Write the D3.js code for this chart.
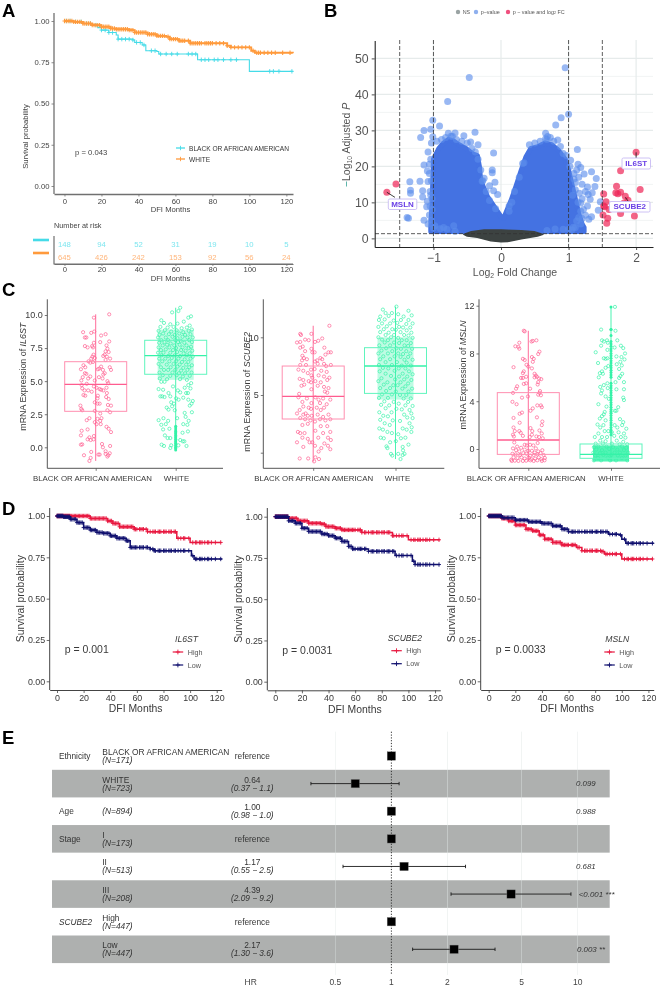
<!DOCTYPE html>
<html><head><meta charset="utf-8">
<style>html,body{margin:0;background:#fff}svg{display:block;font-family:"Liberation Sans",Arial,sans-serif;filter:blur(.35px)}</style>
<script src="https://cdnjs.cloudflare.com/ajax/libs/d3/7.8.5/d3.min.js"></script>
</head><body><script>
// ---------- Panel A / D survival steps [month, survival]
const aBlack=[[0,1],[5,.995],[10,.985],[15,.975],[18,.96],[20,.945],[24,.93],[28,.915],[29,.89],[37,.885],[38,.87],[42,.855],[44,.82],[50,.815],[51,.8],[72,.765],[100,.695],[123.5,.695]];
const aWhite=[[0,1],[5,.995],[10,.985],[15,.975],[20,.965],[25,.955],[28,.95],[35,.945],[38,.93],[45,.92],[50,.91],[55,.905],[57,.89],[62,.88],[68,.865],[87,.865],[88,.85],[90,.84],[99,.84],[101,.82],[103,.808],[123.5,.804]];
const aBlackCens=[1,3,6,9,12,14,17,20,22,24,26,29,31,33,35,37,39,41,43,47,49,52,55,58,61,67,69,71,74,76,78,81,83,86,90,93,111,113,116,123];
const aWhiteCens=[0,1,2,3,4,5,6,7,8,9,10,11,12,13,14,15,16,17,18,19,20,21,22,23,24,25,26,27,28,29,30,31,32,33,34,35,36,37,38,39,40,41,42,43,44,45,46,47,48,49,50,51,52,53,54,56,57,58,59,60,61,62,63,64,65,67,68,69,70,71,72,73,74,76,77,78,79,80,82,84,86,88,90,92,94,96,98,100,102,104,105,106,108,110,112,114,118,122];
const riskTimes=[0,20,40,60,80,100,120];
const riskBlack=[148,94,52,31,19,10,5];
const riskWhite=[645,426,242,153,92,56,24];
const d1High=[[0,1],[25,.985],[38,.97],[42,.955],[47,.935],[58,.92],[68,.905],[85,.905],[90,.865],[100,.84],[123.5,.84]];
const d1Low=[[0,1],[5,.995],[10,.98],[15,.96],[20,.93],[25,.915],[30,.9],[35,.895],[40,.88],[45,.865],[52,.85],[55,.81],[70,.8],[73,.79],[98,.79],[101,.76],[103,.74],[123.5,.735]];
const d2High=[[0,1],[10,.99],[17,.975],[25,.96],[35,.955],[38,.94],[45,.93],[50,.92],[65,.905],[87,.905],[88,.885],[100,.86],[123.5,.86]];
const d2Low=[[0,1],[10,.975],[15,.96],[20,.93],[25,.91],[35,.895],[40,.885],[45,.87],[50,.85],[55,.82],[58,.805],[70,.79],[90,.765],[100,.765],[103,.73],[105,.71],[123.5,.71]];
const d3High=[[0,1],[10,.985],[15,.97],[20,.945],[28,.92],[33,.91],[38,.885],[42,.86],[48,.84],[55,.825],[66,.81],[70,.79],[85,.785],[87,.77],[100,.74],[123.5,.74]];
const d3Low=[[0,1],[10,.99],[20,.975],[30,.965],[40,.955],[48,.94],[55,.92],[60,.905],[88,.905],[90,.89],[98,.885],[100,.86],[103,.835],[123.5,.83]];
const dCens=[0,.5,1,1.5,2,2.5,3,3.5,4,4.5,5,5.5,6,6.5,7,7.5,8,8.5,9,9.5,10,11,12,13,14,15,16,17,18,19,20,21,22,23,24,25,26,27,28,29,30,31,32,33,34,35,36,37,38,39,40,41,42,43,44,45,46,47,48,49,50,51,52,53,54,55,56,57,58,59,60,62,63,64,65,67,68,70,72,73,74,76,77,78,80,81,82,84,85,86,88,89,91,93,95,96,99,102,104,105,107,108,109,111,113,114,116,119,123];
// ---------- Panel B volcano
const blueTop=[[-1.04,3],[-1.02,10],[-1,22],[-.92,25],[-.85,26.5],[-.78,27.5],[-.7,27],[-.62,26],[-.52,25],[-.42,23.5],[-.35,23],[-.32,20],[-.3,16],[-.2,11.6],[-.1,8.8],[0,6],[.04,5.6],[.07,7],[.15,10.6],[.22,14.4],[.3,19],[.37,22.7],[.44,25],[.55,25.5],[.65,26.5],[.75,26],[.85,24.5],[.95,22],[1,19],[1.05,15],[1.1,11],[1.15,7],[1.2,4],[1.23,3]];
const blueBase=[1.9];
const blueDots=[[.95,47.4],[-.47,44.7],[-.79,38],[1,34.5],[.89,33.5],[-1.01,32.8],[.81,31.5],[-.91,31.2],[-1.14,30],[-1.04,30.3],[-1.19,28],[-1.01,28.2],[-.385,29.5],[-.55,28.5],[-.68,29.3],[-.78,29.2],[-.74,28.4],[.66,29.2],[.69,28.3],[.66,27.7],[.84,27.3],[.73,28],[1.13,24.7],[-.11,23.7],[-.34,26],[-.45,26.8],[-1.08,24],[-1.03,26.5],[-1.14,20.4],[-1.06,20.6],[-1.09,18.7],[1.14,20.6],[1.03,21.7],[.92,23.6],[1.18,19.7],[1.23,17.9],[1.34,18.5],[1.41,16.6],[1.39,14.4],[1.28,14.3],[1.35,12.7],[1.32,10.9],[-1.35,15.7],[-1.2,15.9],[-1.34,13.4],[-1.34,12.5],[-1.16,13.2],[-1.16,11.5],[-1.08,15.8],[-1.05,13],[-1.09,10.3],[-1.02,11],[-1.39,5.8],[-1.37,5.6],[-1.14,5],[-1.1,8.8],[-1.08,4],[-1.06,6.5],[-1.05,9],[-.13,19],[-.13,18.2],[-.25,16.7],[-.28,15.9],[-.09,15.6],[-.17,14.6],[-.11,13.2],[-.05,12.2],[.32,20.8],[.16,10],[.12,7.5],[1.08,16.5],[1.15,17],[1.2,15],[1.16,12.5],[1.25,13],[1.29,12.2],[1.18,9.8],[1.28,9],[1.22,8],[1.25,6.4],[1.34,6],[1.15,5.8],[1.3,5.3],[1.12,4.8],[1.07,3.1],[1.44,7.8],[1.47,10.2],[.92,2.5],[-.7,3.5],[-.68,2],[-.9,2.7],
[-.95,27],[-.88,27.5],[-.82,28],[-.72,28.4],[-.66,27.5],[-.58,27],[-.5,26.5],[-.43,25],[-.38,24],[-.34,22],[-.3,19],[-.27,16],[-.22,13],[-.17,10.5],[-.08,8.2],[-1.04,22],[-1.06,18],[-1.03,16],[-1.04,12],[-1.02,8],[-1.03,5],[-.98,3.5],[-1,2.8],[.42,26],[.5,26.5],[.58,27],[.68,27.5],[.78,27],[.88,25.5],[.97,23],[1.02,20],[1.08,18],[1.1,13.5],[1.14,10],[1.18,7.5],[1.2,5.5],[1.18,4],[1.1,3],[1,2.5],[.12,9],[.2,13],[.27,17],[.34,21],[-.85,3],[-.8,2.5],[.8,2.6],[1.05,2.4],[.68,2.2],[1.06,12],[1.1,15.5],[1.12,19],[1.2,11]];
const greyTop=[[-.55,1.1],[-.44,1.85],[-.25,2.3],[0,2.3],[.3,2.1],[.49,1.85],[.62,1.1]];
const greyLow=[[-.55,1.1],[-.5,.65],[-.35,.3],[-.15,-.65],[0,-.93],[.1,-.85],[.3,-.1],[.54,.65],[.62,1.1]];
const redDots=[[2,23.9],[1.77,18.8],[2.06,13.6],[1.71,14.5],[1.7,12.7],[1.77,12.8],[1.73,12.4],[1.84,11.7],[1.88,10.6],[1.52,12.3],[1.555,10.2],[1.52,9],[1.535,8.8],[1.6,8],[1.77,6.9],[1.51,6.5],[1.58,5.6],[1.565,4.2],[1.975,6.2],[1.82,9.8],[-1.555,15.1],[-1.69,12.8]];
const volTicksX=[-1,0,1,2];
const volTicksY=[0,10,20,30,40,50];
// ---------- Panel C boxes [q1, median, q3, whiskerLow, whiskerHigh]
const c1Box=[[2.72,4.76,6.47,-1.03,10.05],[5.52,6.93,8.09,-.2,10.55]];
const c2Box=[[2.92,4.88,7.51,-.78,11],[5.14,7.51,9.1,-.55,12.66]];
const c3Box=[[-.45,.75,4.72,-1.05,9.9],[-.78,-.45,.42,-1.05,11.9]];
const boxGroups=["BLACK OR AFRICAN AMERICAN","WHITE"];
// jitter, value pairs
const c1Black=[[.75,10.05],[-.1,9.8],[-.7,8.7],[-.25,8.65],[-.08,8.75],[.3,8.45],[.55,8.55],[-.6,8.3],[-.52,8.3],[.25,7.95],[.75,8],[-.1,7.9],[-.6,7.65],[-.45,7.55],[-.2,7.65],[-.15,7.55],[.6,7.7],[.65,7.45],[.55,7.25],[.72,7.2],[.5,7],[.62,6.85],[.42,6.9],[-.12,7],[-.18,6.85],[-.05,6.75],[-.25,6.7],[-.4,6.5],[-.3,6.4],[-.15,6.45],[.8,6.7],[.55,6.6],[-.68,6.2],[-.58,6.05],[-.82,5.9],[.3,6.1],[.2,5.95],[.12,5.9],[.4,5.85],[.78,6.05],[.85,5.85],[.5,5.6],[.42,5.5],[-.6,5.6],[-.52,5.55],[-.3,5.35],[-.72,5.3],[-.42,5.2],[-.8,5.05],[-.05,5.05],[.18,5.3],[.38,5.2],[.65,5],[.7,4.85],[-.78,4.7],[-.5,4.8],[-.75,4.45],[-.62,4.3],[-.42,4.3],[-.1,4.6],[.05,4.5],[.22,4.4],[.3,4.35],[.42,4.3],[.6,4.5],[.62,4.1],[-.68,3.95],[-.58,3.9],[-.22,4.2],[.12,3.9],[.1,3.7],[.58,3.8],[.72,3.65],[-.05,3.4],[.1,3.3],[.22,3.3],[.68,3.2],[.85,3.15],[-.85,3.15],[-.8,2.9],[-.75,2.8],[-.05,2.75],[.65,2.8],[.8,2.65],[.25,2.55],[.32,2.2],[.25,2],[.1,2.15],[-.5,2.05],[-.35,2.2],[-.05,1.9],[.05,1.75],[.28,1.75],[.6,1.55],[.72,1.4],[-.78,1.25],[-.45,1.35],[.85,1.15],[-.82,.9],[-.35,.75],[-.28,.55],[-.45,.6],[-.12,.6],[-.1,.85],[-.82,.2],[-.75,.22],[.35,.25],[.4,0],[.8,.1],[.55,-.3],[-.65,-.6],[.15,-.55],[.22,-.55],[.55,-.5],[.7,-.6],[.78,-.45],[-.25,-.35],[-.35,-1.03],[-.28,-.8],[.65,-.7]];
const c1White=[[-.8,9.6],[.7,9.8],[-.2,10.2],[.25,10.55],[.15,10.3],[.85,9.9],[-.65,9.4],[.45,9.5],[-.3,9.3],[.78,9.2],[.1,9.35],[-.85,9.1],[-.45,9.05],[-.12,9.1],[.33,9],[.62,9.05],[.9,8.9],[-.95,8.8],[-.6,8.85],[-.25,8.75],[.05,8.85],[.42,8.7],[.72,8.8],[-.9,8.5],[-.7,8.6],[-.38,8.55],[-.05,8.5],[.2,8.6],[.52,8.5],[.82,8.55],[.95,8.3],[-.98,8.3],[-.55,8.3],[-.18,8.35],[.1,8.25],[.38,8.35],[.65,8.3],[-.8,8.1],[-.42,8.1],[-.02,8.1],[.28,8.05],[.75,8.1],[.9,7.95],[-.92,7.9],[-.62,7.95],[-.28,7.85],[.13,7.95],[.48,7.9],[-.72,7.7],[-.48,7.75],[-.08,7.7],[.22,7.75],[.6,7.7],[.85,7.6],[-.95,7.55],[-.35,7.55],[.02,7.5],[.38,7.55],[.72,7.5],[-.82,7.35],[-.55,7.4],[-.15,7.35],[.3,7.35],[.55,7.3],[.92,7.3],[-.98,7.15],[-.68,7.15],[-.3,7.15],[.08,7.2],[.44,7.1],[.78,7.1],[-.8,6.95],[-.42,6.9],[-.05,6.95],[.25,6.9],[.62,6.95],[.95,6.85],[-.92,6.7],[-.58,6.7],[-.22,6.75],[.15,6.7],[.5,6.65],[.82,6.7],[-.75,6.5],[-.35,6.5],[.02,6.5],[.35,6.45],[.7,6.45],[-.95,6.3],[-.5,6.25],[-.12,6.3],[.22,6.25],[.58,6.25],[.9,6.2],[-.82,6.05],[-.28,6.05],[.1,6.1],[.42,6],[.75,6.05],[-.65,5.85],[-.42,5.85],[-.02,5.85],[.3,5.8],[.65,5.85],[-.9,5.65],[-.18,5.65],[.18,5.6],[.52,5.6],[.88,5.65],[-.72,5.45],[-.3,5.4],[.05,5.45],[.4,5.35],[.78,5.4],[-.88,5.2],[-.48,5.15],[.24,5.15],[.62,5.1],[-.8,4.95],[-.62,4.95],[.86,4.85],[.7,4.7],[-.15,4.6],[.5,4.5],[.82,4.45],[-.95,4.4],[-.7,4.35],[.12,4.3],[.25,4.15],[-.4,4.1],[.58,4.1],[.68,4.1],[-.75,3.85],[-.85,3.85],[-.62,3.8],[-.3,3.85],[.02,3.7],[.16,3.6],[.42,3.75],[.7,3.6],[.95,3.5],[-.25,3.4],[-.1,3.3],[.88,3.3],[.78,3.15],[-.5,3],[-.2,3.1],[-.4,2.85],[-.05,2.8],[.5,2.6],[.9,2.65],[.55,2.3],[-.68,2.2],[-.42,2],[.08,2.2],[.72,2],[-.95,2.05],[-.8,1.7],[-.55,1.75],[.42,1.75],[.65,1.7],[-.7,1.35],[-.35,1.4],[.68,1.2],[.38,1.1],[-.6,.9],[-.3,.7],[-.45,.7],[.25,.55],[.48,.45],[-.78,.2],[-.65,.1],[-.25,.15],[.15,.15],[.6,.1],[.4,.45],[-.3,-.05]];
const c1Column=[-.2,-.1,0,.1,.2,.3,.4,.5,.6,.7,.8,.9,1,1.1,1.2,1.3,1.45,1.6];
const c2Black=[[.9,11],[-.1,10.3],[-.72,10.3],[-.68,10.2],[.5,9.9],[-.45,9.8],[-.25,9.75],[.1,9.6],[.28,9.7],[-.72,9.6],[-.9,9.55],[-.58,9.2],[-.72,9.1],[-.1,9],[.62,9.1],[.85,8.7],[.98,8.7],[-.45,8.8],[-.05,8.7],[.08,8.7],[-.6,8.4],[-.52,8.2],[-.62,8],[-.35,8.1],[.22,8],[.4,8.2],[.68,8.5],[.5,8.1],[.1,7.9],[.25,7.7],[-.4,7.6],[-.72,7.6],[.6,7.7],[.72,7.5],[.98,7.6],[-.82,7.2],[-.55,7.1],[-.12,7.2],[.08,7.25],[.45,7.1],[.75,7],[-.3,6.9],[-.1,6.7],[-.05,6.5],[.3,6.7],[.6,6.6],[.9,6.5],[-.75,6.4],[-.55,6.3],[-.25,6.2],[-.12,6.1],[.12,6.2],[.42,6.1],[.78,6.3],[-.5,5.9],[-.65,5.8],[.25,5.8],[.6,5.7],[.85,5.6],[-.1,5.5],[.65,5.3],[.78,5.2],[-.78,5.1],[-.82,4.8],[-.35,4.7],[.12,4.8],[.3,4.6],[.55,4.7],[.95,4.6],[-.6,4.4],[-.1,4.3],[.38,4.3],[.75,4.2],[-.55,4],[-.25,3.9],[-.12,3.8],[.2,3.9],[.42,3.7],[.6,3.9],[-.75,3.7],[-.9,3.4],[-.55,3.3],[-.42,3.4],[-.3,3.2],[-.08,3.2],[.25,3.3],[.55,3.1],[.85,3.3],[-.72,3],[-.45,2.9],[-.15,2.8],[.1,2.7],[.38,2.9],[.68,2.8],[.95,2.9],[-.6,2.4],[-.3,2.5],[.42,2.3],[.78,2.3],[-.85,1.8],[-.72,1.7],[-.48,1.7],[.12,1.9],[.55,1.7],[.95,1.8],[-.6,1.3],[-.3,1.2],[.28,1.3],[.82,1.3],[.98,1.1],[-.9,.9],[-.2,.9],[-.05,.9],[.1,.6],[.62,.8],[.82,.6],[-.55,.5],[.45,.4],[.3,.1],[.95,.3],[-.75,-.5],[-.28,-.5],[.05,-.75],[.32,-.55],[.12,-.4]];
const c2White=[[.05,12.66],[-.7,12.4],[.72,12.3],[-.55,12.1],[-.2,12.1],[.15,12],[.9,11.9],[-.85,11.8],[-.38,11.85],[.45,11.8],[.72,11.5],[-.92,11.5],[-.6,11.55],[-.1,11.45],[.3,11.5],[.95,11.2],[-.75,11.2],[-.3,11.2],[.1,11.25],[.6,11.15],[-.95,10.9],[-.48,10.95],[.2,10.9],[.42,10.85],[.82,10.85],[-.65,10.7],[-.18,10.7],[.02,10.65],[.62,10.6],[-.85,10.45],[-.38,10.4],[.28,10.45],[.88,10.4],[-.55,10.2],[-.08,10.2],[.48,10.2],[.72,10.15],[-.95,10],[-.25,10],[.15,9.95],[.95,9.95],[-.75,9.8],[-.42,9.75],[.35,9.75],[.62,9.75],[-.6,9.55],[-.08,9.55],[.2,9.5],[.85,9.5],[-.9,9.3],[-.3,9.3],[.5,9.3],[.7,9.25],[-.52,9.05],[.05,9.05],[.3,9],[.92,9],[-.78,8.85],[-.18,8.8],[.6,8.8],[-.95,8.6],[-.42,8.6],[.15,8.6],[.42,8.55],[.82,8.6],[-.68,8.35],[-.05,8.35],[.28,8.3],[.7,8.3],[-.85,8.1],[-.3,8.1],[.5,8.05],[.95,8.05],[-.55,7.85],[.08,7.85],[.62,7.8],[-.92,7.6],[-.2,7.6],[.35,7.55],[.85,7.55],[-.7,7.35],[-.4,7.3],[.18,7.3],[.55,7.3],[-.05,7.1],[.75,7.05],[-.88,7.05],[-.55,6.85],[.4,6.85],[.95,6.8],[-.25,6.65],[.2,6.6],[.65,6.6],[-.78,6.45],[-.02,6.35],[.48,6.35],[.88,6.3],[-.95,6.2],[-.45,6.1],[.28,6.1],[.7,6],[-.65,5.9],[-.12,5.85],[.12,5.85],[.55,5.75],[-.85,5.6],[-.3,5.6],[.38,5.55],[.92,5.55],[-.52,5.35],[.02,5.3],[.72,5.3],[-.75,5.05],[-.2,5.05],[.25,5],[.6,5],[-.92,4.75],[-.42,4.75],[.45,4.7],[.85,4.7],[-.62,4.45],[-.1,4.4],[.7,4.4],[.18,4.25],[-.8,4.15],[-.35,4.1],[.55,4.1],[.95,4.05],[-.55,3.85],[.05,3.8],[.35,3.75],[.78,3.7],[-.9,3.5],[-.22,3.5],[.88,3.4],[.48,3.3],[-.68,3.2],[-.42,3.15],[.65,3.05],[.95,3],[-.85,2.85],[-.15,2.8],[.25,2.75],[-.6,2.55],[-.32,2.4],[.78,2.55],[.9,2.2],[-.9,2.1],[-.7,2],[.4,2.1],[.62,2],[-.45,1.8],[-.2,1.7],[.15,1.6],[.88,1.8],[-.82,1.3],[-.65,1.25],[.3,1.25],[.55,1.3],[.02,1],[-.3,.9],[.72,.7],[-.45,.4],[-.5,.55],[.4,.5],[.42,.2],[-.25,-.1],[.15,-.1],[-.18,-.25],[.4,-.2],[.5,-.1],[.28,-.55]];
const c3Black=[[-.25,9.9],[-.2,9.85],[.45,9.1],[.25,9.05],[.18,9],[-.5,8.9],[-.55,8.55],[-.5,8.4],[-.72,8.6],[.62,8.15],[.55,7.95],[.2,7.7],[.3,7.55],[-.3,7.55],[-.2,7.45],[.25,7.3],[-.1,7.05],[-.82,6.85],[.0,6.9],[.2,6.75],[-.25,6.5],[-.3,6.35],[.35,6.3],[.42,6.15],[.48,6.05],[.35,6],[-.12,6.05],[-.4,5.95],[-.3,5.95],[.6,5.9],[.72,5.85],[.55,5.6],[.52,5.4],[-.12,5.5],[-.25,5.45],[-.62,5.25],[-.68,5.05],[.1,5.05],[.65,4.85],[.62,4.7],[.55,4.55],[.7,4.5],[-.85,4.7],[-.35,4.3],[-.02,4.4],[-.88,3.95],[-.65,3.75],[.7,3.65],[.5,3.65],[.75,3.5],[.25,3.4],[.12,3.2],[-.35,3.05],[-.48,2.95],[-.82,2.6],[.48,2.65],[.78,2.3],[.75,2],[-.48,2.2],[-.82,1.8],[-.75,1.5],[-.5,1.5],[-.42,1.35],[.12,1.75],[.22,1.5],[.62,1.55],[.75,1.3],[-.85,1.2],[-.8,1.05],[-.3,1.1],[.08,1],[.2,1.2],[.45,1.05],[.6,1],[.8,.9],[-.78,.55],[-.62,.2],[-.4,.1],[-.2,.35],[-.08,.3],[.1,.35],[.28,.3],[.42,.05],[.52,.5],[-.85,.05],[-.68,-.1],[-.5,-.2],[-.2,-.05],[.0,-.15],[.2,-.15],[.35,-.3],[.55,-.2],[.78,-.1],[-.88,-.4],[-.7,-.45],[-.45,-.5],[-.28,-.35],[-.1,-.4],[.1,-.55],[.3,-.5],[.5,-.45],[.68,-.35],[.85,-.5],[-.95,-.9],[-.82,-.7],[-.6,-.75],[-.38,-.7],[-.2,-.8],[.02,-.72],[.18,-.85],[.38,-.8],[.58,-.7],[.72,-.85],[.92,-.75],[-.92,-1],[-.75,-.98],[-.55,-1],[-.3,-1],[-.12,-.98],[.12,-.95],[.3,-1],[.5,-.95],[.75,-1],[.9,-.95]];
const c3White=[[.22,11.9],[-.55,10],[.25,9.9],[-.5,9.1],[-.4,9],[-.22,9.1],[-.18,8.9],[.35,9.1],[.55,8.65],[.68,8.45],[.78,8],[-.55,8.65],[-.2,8.3],[.2,8.5],[-.85,8.1],[.58,7.7],[.3,7.75],[-.4,7.6],[-.3,7.55],[-.2,7.6],[.52,7.3],[.75,7.5],[-.72,7.2],[.32,7.1],[.6,7],[-.15,6.95],[-.3,6.8],[.45,6.7],[-.5,6.5],[-.62,6.35],[-.45,6.3],[.62,6.3],[.52,6.1],[-.68,6],[.45,5.95],[.72,5.6],[.25,5.6],[-.2,5.5],[-.4,5.35],[-.6,5.2],[-.5,4.9],[-.18,5.1],[.72,5],[.3,5],[-.55,4.65],[-.3,4.4],[-.12,4.2],[.68,4.3],[.72,4.1],[-.7,3.75],[-.25,3.55],[-.35,3.1],[.22,3.2],[.3,3.2],[.4,3.5],[-.4,2.9],[-.5,2.75],[-.62,2.55],[-.3,2.4],[.5,2.5],[.68,2.25],[-.75,2.05],[-.42,2],[-.6,1.8],[.2,2],[.35,1.8],[.62,2],[.85,1.7],[-.7,1.3],[-.35,1.5],[-.15,1.5],[.05,1.4],[.42,1.4],[.72,1.3],[-.9,1],[-.5,1],[-.22,1],[.18,1.1],[.55,1],[.8,.95],[-.6,.7],[-.3,.65],[.32,.7],[.68,.6],[-.85,.45],[-.45,.45],[.05,.45],[.48,.4],[.9,.4],[-.95,.15],[-.7,.2],[-.25,.2],[.12,.15],[.62,.2],[.85,.1],[-.82,-.05],[-.5,-.1],[-.1,0],[.35,-.05],[.72,-.1],[-.98,-.3],[-.62,-.35],[-.3,-.3],[.2,-.3],[.5,-.3],[.95,-.3],[-.88,-.55],[-.42,-.5],[.02,-.5],[.38,-.55],[.8,-.55],[-.72,-.75],[-.18,-.72],[.6,-.75],[-.95,-.95],[-.55,-.95],[-.05,-.95],[.28,-.95],[.9,-.95]];
const c3Column=[1.2,1.4,1.6,1.8,2,2.2,2.4,2.6,2.8,3,3.15,3.3,3.5,3.7,3.9,4.1,4.3,4.5,4.7,4.9,5.1,5.3,5.5,6,6.2,6.4,6.6,6.8,7,7.2,7.4,7.6,7.8,8,8.2,8.4,8.6,8.8,9,9.5,10,10,11.9];
const c1Cloud=[5.1,8.9], c2Cloud=[4.6,10], c3Cloud=[-1.05,.3];
// ---------- Panel E forest
const rowVar=["Ethnicity","","Age","Stage","","","SCUBE2",""];
const rowLevel=["BLACK OR AFRICAN AMERICAN","WHITE","","I","II","III","High","Low"];
const rowN=["(N=171)","(N=723)","(N=894)","(N=173)","(N=513)","(N=208)","(N=447)","(N=447)"];
const rowHR=["reference","0.64","1.00","reference","1.17","4.39","reference","2.17"];
const rowCI=["","(0.37 − 1.1)","(0.98 − 1.0)","","(0.55 − 2.5)","(2.09 − 9.2)","","(1.30 − 3.6)"];
const rowEst=[1,.64,1,1,1.17,4.39,1,2.17];
const rowLo=[null,.37,.98,null,.55,2.09,null,1.3];
const rowHi=[null,1.1,1,null,2.5,9.2,null,3.6];
const rowP=["","0.099","0.988","","0.681","<0.001 ***","","0.003 **"];
const forestTicks=[.5,1,2,5,10];

// ---------- drawing
const svg=d3.select("body").append("svg").attr("width",662).attr("height",988);
const TXT="#3a3a3a";
function T(x,y,s,o={}){const n=svg.append("text").attr("x",x).attr("y",y).attr("dominant-baseline","central")
 .attr("font-size",o.size||8).attr("text-anchor",o.anchor||"start").attr("fill",o.fill||TXT).text(s);
 if(o.italic)n.attr("font-style","italic");if(o.bold)n.attr("font-weight","bold");
 if(o.rot)n.attr("transform",`rotate(${o.rot} ${x} ${y})`);return n;}
[["A",2,10],["B",324,10],["C",2,289],["D",2,508],["E",2,737]].forEach(d=>T(d[1],d[2],d[0],{size:18.5,bold:true,fill:"#000"}));
function style(g,col,w,size,fill){g.select(".domain").attr("stroke",col).attr("stroke-width",w);
 g.selectAll(".tick line").attr("stroke",col).attr("stroke-width",.8);
 g.selectAll("text").attr("font-size",size).attr("fill",fill).attr("font-family","inherit");}
function km(x,y,steps,cens,col,w,cw){
 const ln=d3.line().x(d=>x(d[0])).y(d=>y(d[1])).curve(d3.curveStepAfter);
 svg.append("path").attr("d",ln(steps)).attr("fill","none").attr("stroke",col).attr("stroke-width",w);
 const bis=d3.bisector(d=>d[0]).right;
 svg.append("g").selectAll("path").data(cens).join("path")
  .attr("d","M-2,0H2M0,-2.2V2.2").attr("stroke",col).attr("stroke-width",cw).attr("fill","none")
  .attr("transform",d=>`translate(${x(d)},${y(steps[Math.max(0,bis(steps,d)-1)][1])})`);
}
function kmPanel(o){
 const x=d3.scaleLinear().domain([(o.x0-o.xZero)/1.331,(o.x1-o.xZero)/1.331]).range([o.x0,o.x1]);
 const y=d3.scaleLinear().domain([0,1]).range([o.y0,o.y1]);
 const yb=o.yb;
 let g=svg.append("g").attr("transform",`translate(${o.x0},0)`).call(d3.axisLeft(y).tickValues([0,.25,.5,.75,1]).tickFormat(d3.format(".2f")).tickSize(3).tickPadding(1.5).tickSizeOuter(0));
 g.select(".domain").attr("d",`M0,${o.top}V${yb}`);style(g,"#444",1,8.9,TXT);
 g=svg.append("g").attr("transform",`translate(0,${yb})`).call(d3.axisBottom(x).tickValues(riskTimes).tickSize(3).tickPadding(1.5).tickSizeOuter(0));style(g,"#444",1,8.9,TXT);
 km(x,y,o.high,dCens,"#e8173f",1.5,.9);
 km(x,y,o.low,dCens,"#10106e",1.5,.9);
 T((o.x0+o.x1)/2+(o.xl||0),o.lab,"DFI Months",{size:10.4,anchor:"middle"});
 T(o.yl,(o.y0+o.y1)/2,"Survival probability",{size:10.4,anchor:"middle",rot:-90});
 T(o.x0+15,o.p,o.pt,{size:10.5});
 T(o.lt,o.ly,o.gene,{size:8.6,italic:true});
 [["High","#e8173f",0],["Low","#10106e",13]].forEach(d=>{
  const a=o.lx,b=o.lx+10.5,yy=o.ly+13+d[2];
  svg.append("line").attr("x1",a).attr("x2",b).attr("y1",yy).attr("y2",yy).attr("stroke",d[1]).attr("stroke-width",1.2);
  svg.append("path").attr("d",`M${a+5.2-2.2},${yy}H${a+5.2+2.2}M${a+5.2},${yy-2.4}V${yy+2.4}`).attr("stroke",d[1]).attr("stroke-width",.9);
  T(o.lx+15,yy,d[0],{size:7.2,fill:"#555"});
 });
}
// Panel A
{const x=d3.scaleLinear().domain([-5.67,123.6]).range([54,293]);
 const y=d3.scaleLinear().domain([0,1]).range([186,21]);
 let g=svg.append("g").attr("transform","translate(54,0)").call(d3.axisLeft(y).tickValues([0,.25,.5,.75,1]).tickFormat(d3.format(".2f")).tickSize(2.5).tickPadding(2).tickSizeOuter(0));
 g.select(".domain").attr("d","M0,13V194");style(g,"#707070",1.3,7.7,"#444");
 g=svg.append("g").attr("transform","translate(0,194)").call(d3.axisBottom(x).tickValues(riskTimes).tickSize(2.5).tickPadding(2).tickSizeOuter(0));style(g,"#707070",1.3,7.7,"#444");
 km(x,y,aBlack,aBlackCens,"#45dbe8",1.1,.9);
 km(x,y,aWhite,aWhiteCens,"#ff9a3c",1.9,1.1);
 T(170.5,209.5,"DFI Months",{size:7.7,anchor:"middle",fill:"#444"});
 T(25,136.5,"Survival probability",{size:7.7,anchor:"middle",rot:-90,fill:"#444"});
 T(75,152.5,"p = 0.043",{size:7.7,fill:"#444"});
 [["BLACK OR AFRICAN AMERICAN","#45dbe8",148],["WHITE","#ff9a3c",159]].forEach(d=>{
  svg.append("line").attr("x1",176).attr("x2",185).attr("y1",d[2]).attr("y2",d[2]).attr("stroke",d[1]).attr("stroke-width",1.3);
  svg.append("path").attr("d",`M180.5,${d[2]-2.2}V${d[2]+2.2}`).attr("stroke",d[1]).attr("stroke-width",.9);
  T(189,d[2],d[0],{size:6.6,fill:"#333"});
 });
 T(54,225.7,"Number at risk",{size:7.3,fill:"#444"});
 const y2=d3.scalePoint().domain(["b","w"]).range([244,257]);
 riskBlack.forEach((v,i)=>T(x(riskTimes[i]),y2("b"),v,{size:7.7,anchor:"middle",fill:"#7fe6ef"}));
 riskWhite.forEach((v,i)=>T(x(riskTimes[i]),y2("w"),v,{size:7.7,anchor:"middle",fill:"#ffb57a"}));
 svg.append("line").attr("x1",33).attr("x2",49).attr("y1",240).attr("y2",240).attr("stroke","#45dbe8").attr("stroke-width",2.6);
 svg.append("line").attr("x1",33).attr("x2",49).attr("y1",253).attr("y2",253).attr("stroke","#ff9a3c").attr("stroke-width",2.6);
 svg.append("path").attr("d","M54,236V264H293").attr("fill","none").attr("stroke","#707070").attr("stroke-width",1.2);
 g=svg.append("g").attr("transform","translate(0,264)").call(d3.axisBottom(x).tickValues(riskTimes).tickSize(2).tickPadding(1).tickSizeOuter(0));style(g,"#707070",1.2,7.7,"#444");
 T(170.5,278,"DFI Months",{size:7.7,anchor:"middle",fill:"#444"});
}
// Panel B
{const x=d3.scaleLinear().domain([-1.87,2.25]).range([374.7,653]);
 const y=d3.scaleLinear().domain([-2.4,55]).range([247,40.4]);
 [5,15,25,35,45].forEach(v=>svg.append("line").attr("x1",375).attr("x2",653).attr("y1",y(v)).attr("y2",y(v)).attr("stroke","#eef1f1").attr("stroke-width",.8));
 volTicksY.forEach(v=>svg.append("line").attr("x1",375).attr("x2",653).attr("y1",y(v)).attr("y2",y(v)).attr("stroke","#e6ebeb").attr("stroke-width",1.2));
 volTicksX.forEach(v=>svg.append("line").attr("y1",40).attr("y2",247).attr("x1",x(v)).attr("x2",x(v)).attr("stroke","#e6ebeb").attr("stroke-width",1.2));
 const ar=d3.area().x(d=>x(d[0])).y1(d=>y(d[1])).y0(y(blueBase[0]));
 svg.append("path").attr("d",ar(blueTop)).attr("fill","#4472e2").attr("stroke","#4472e2").attr("stroke-width",5).attr("stroke-linejoin","round");
 svg.append("g").selectAll("circle").data(blueDots).join("circle").attr("cx",d=>x(d[0])).attr("cy",d=>y(d[1])).attr("r",3.5).attr("fill","#5b8ceb").attr("opacity",.62);
 svg.append("g").selectAll("circle").data(redDots).join("circle").attr("cx",d=>x(d[0])).attr("cy",d=>y(d[1])).attr("r",3.5).attr("fill","#ee2a5a").attr("opacity",.72);
 const lg=d3.line().x(d=>x(d[0])).y(d=>y(d[1]));
 svg.append("path").attr("d",lg(greyTop.concat(greyLow.slice().reverse()))+"Z").attr("fill","#3c4241").attr("stroke","#3c4241").attr("stroke-width",1.5).attr("stroke-linejoin","round");
 [-1.5,-1,1,1.5].forEach(v=>svg.append("line").attr("x1",x(v)).attr("x2",x(v)).attr("y1",40).attr("y2",247).attr("stroke","#333").attr("stroke-width",.8).attr("stroke-dasharray","4 2"));
 svg.append("line").attr("x1",375).attr("x2",653).attr("y1",y(1.3)).attr("y2",y(1.3)).attr("stroke","#333").attr("stroke-width",.8).attr("stroke-dasharray","4 2");
 let g=svg.append("g").attr("transform","translate(374.7,0)").call(d3.axisLeft(y).tickValues(volTicksY).tickSize(3).tickPadding(3).tickSizeOuter(0));style(g,"#222",1.1,12.3,"#555");
 g=svg.append("g").attr("transform","translate(0,247)").call(d3.axisBottom(x).tickValues(volTicksX).tickFormat(d=>String(d).replace("-","−")).tickSize(3).tickPadding(3).tickSizeOuter(0));style(g,"#222",1.1,12,"#555");
 const xl=T(515,272,"",{size:10.5,anchor:"middle",fill:"#555"});
 xl.append("tspan").text("Log");xl.append("tspan").attr("font-size",6.8).attr("dy",3).text("2");xl.append("tspan").attr("dy",-3).text(" Fold Change");
 const yl=T(346,145,"",{size:10.5,anchor:"middle",fill:"#555",rot:-90});
 yl.append("tspan").attr("fill","#2a9d8f").text("−");yl.append("tspan").text("Log");yl.append("tspan").attr("font-size",6.8).attr("dy",3).text("10");yl.append("tspan").attr("dy",-3).text(" Adjusted ");yl.append("tspan").attr("font-style","italic").text("P");
 // annotations
 [[2,23.9,2,21.8],[-1.69,12.8,-1.57,11.4],[1.84,11.4,1.9,9.9]].forEach(d=>svg.append("line").attr("x1",x(d[0])).attr("y1",y(d[1])).attr("x2",x(d[2])).attr("y2",y(d[3])).attr("stroke","#111").attr("stroke-width",.8));
 [["IL6ST",622,158,28.5,11],["MSLN",388.3,199,28.5,10.5],["SCUBE2",609.5,201.5,40.5,10.5]].forEach(d=>{
  svg.append("rect").attr("x",d[1]).attr("y",d[2]).attr("width",d[3]).attr("height",d[4]).attr("rx",1.5).attr("fill","#fff").attr("stroke","#c8bbf4").attr("stroke-width",.9);
  T(d[1]+d[3]/2,d[2]+d[4]/2,d[0],{size:8,anchor:"middle",bold:true,fill:"#6a3fe6"});
 });
 let last;
 [["NS","#9aa3a3",458,462.7],["p−value","#8fb0ee",476,480.7],["p − value and log","#f0507e",508,512.7]].forEach(d=>{
  svg.append("circle").attr("cx",d[2]).attr("cy",12).attr("r",2.2).attr("fill",d[1]);
  last=T(d[3],12,d[0],{size:5.4,fill:"#555"});
 });
 last.append("tspan").attr("font-size",3.8).attr("dy",1.2).text("2");last.append("tspan").attr("dy",-1.2).text(" FC");
}
// Panel C
function boxPanel(o){
 const x=d3.scaleOrdinal().domain(boxGroups).range(o.cx);
 const y=d3.scaleLinear().domain([o.v0,o.v1]).range([o.p0,o.p1]);
 const jit=d3.scaleLinear().domain([-1,1]).range([-18,18]);
 let g=svg.append("g").attr("transform",`translate(${o.ax},0)`).call(d3.axisLeft(y).tickValues(o.ticks).tickFormat(o.fmt).tickSize(2.5).tickPadding(2).tickSizeOuter(0));
 g.select(".domain").attr("d","M0,299.3V468.3");style(g,"#555",1,9,TXT);
 g=svg.append("g").attr("transform","translate(0,468.3)").call(d3.axisBottom(x).tickSize(2.5).tickFormat(()=>"").tickSizeOuter(0));
 g.select(".domain").attr("d",`M${o.ax},0H${o.xe}`);style(g,"#555",1,8,TXT);
 T(o.lbl[0],478.7,boxGroups[0],{size:7.85,anchor:"middle"});
 T(o.lbl[1],478.7,boxGroups[1],{size:7.85,anchor:"middle"});
 const cols=[["#ff5c8f","#ff8fb0"],["#35f2a8","#5ff5bd"]];
 const wd=31;
 svg.append("rect").attr("x",o.cx[1]-18).attr("width",36).attr("y",y(o.cloud[1])).attr("height",y(o.cloud[0])-y(o.cloud[1])).attr("fill",cols[1][0]).attr("opacity",o.cloudOp);
 [o.black,o.white].forEach((pts,i)=>{
  svg.append("g").selectAll("circle").data(pts).join("circle").attr("cx",d=>o.cx[i]+jit(d[0])).attr("cy",d=>y(d[1])).attr("r",1.6).attr("fill","none").attr("stroke",cols[i][0]).attr("stroke-width",.8).attr("opacity",.85);
 });
 svg.append("g").selectAll("circle").data(o.column).join("circle").attr("cx",o.cx[1]).attr("cy",d=>y(d)).attr("r",1.5).attr("fill",cols[1][0]);
 o.box.forEach((b,i)=>{
  const c=o.cx[i];
  svg.append("line").attr("x1",c).attr("x2",c).attr("y1",y(b[3])).attr("y2",y(b[4])).attr("stroke",cols[i][0]).attr("stroke-width",.9);
  svg.append("rect").attr("x",c-wd).attr("width",wd*2).attr("y",y(b[2])).attr("height",y(b[0])-y(b[2])).attr("fill","none").attr("stroke",cols[i][1]).attr("stroke-width",1);
  svg.append("line").attr("x1",c-wd).attr("x2",c+wd).attr("y1",y(b[1])).attr("y2",y(b[1])).attr("stroke",cols[i][0]).attr("stroke-width",1.4);
 });
 const l=T(o.yl,o.ylc,"",{size:8.9,anchor:"middle",rot:-90});
 l.append("tspan").text("mRNA Expression of ");l.append("tspan").attr("font-style","italic").text(o.gene);
}
boxPanel({ax:47.3,xe:223,cx:[95.7,175.7],v0:0,v1:10,p0:447.3,p1:315,ticks:[0,2.5,5,7.5,10],fmt:d3.format(".1f"),box:c1Box,black:c1Black,white:c1White,column:c1Column,cloud:c1Cloud,cloudOp:.32,lbl:[92.5,176.5],yl:22.7,ylc:376.7,gene:"IL6ST"});
boxPanel({ax:263.3,xe:444.3,cx:[313.2,395.5],v0:0,v1:10,p0:452.7,p1:337.3,ticks:[0,5,10],fmt:d=>d===0?"":d,box:c2Box,black:c2Black,white:c2White,column:[],cloud:c2Cloud,cloudOp:.32,lbl:[313.7,397.5],yl:246.7,ylc:391.7,gene:"SCUBE2"});
boxPanel({ax:479,xe:660,cx:[528.3,611],v0:0,v1:12,p0:449,p1:305.7,ticks:[0,4,8,12],fmt:d3.format("d"),box:c3Box,black:c3Black,white:c3White,column:c3Column,cloud:c3Cloud,cloudOp:.85,lbl:[526.3,611],yl:462.7,ylc:375,gene:"MSLN"});
// Panel D
kmPanel({x0:49.7,x1:221.7,xZero:57,y0:681.3,y1:516,top:508,yb:690,high:d1High,low:d1Low,lab:708,yl:20.7,p:649,pt:"p = 0.001",lt:175,ly:639,lx:172.7,gene:"IL6ST",xl:0});
kmPanel({x0:267.3,x1:440.3,xZero:275.3,y0:681.7,y1:516.7,top:508,yb:690.3,high:d2High,low:d2Low,lab:709,yl:238.7,p:650,pt:"p = 0.0031",lt:387.7,ly:637.7,lx:391.3,gene:"SCUBE2",xl:1});
kmPanel({x0:480.7,x1:653.7,xZero:488.7,y0:681.3,y1:516,top:508,yb:690,high:d3High,low:d3Low,lab:708,yl:451.7,p:649,pt:"p = 0.0033",lt:605.3,ly:639,lx:604.3,gene:"MSLN",xl:0});
// Panel E
{const x=d3.scaleLog().domain([.5,10]).range([335.3,577.7]);
 const y=d3.scalePoint().domain(d3.range(8)).range([756,949.3]);
 rowVar.forEach((_,i)=>{if(i%2)svg.append("rect").attr("x",52).attr("width",557.7).attr("y",y(i)-13.8).attr("height",27.6).attr("fill","#aeb0af");});
 forestTicks.filter(v=>v!==1).forEach(v=>svg.append("line").attr("x1",x(v)).attr("x2",x(v)).attr("y1",731.7).attr("y2",975).attr("stroke","#dfe6e4").attr("stroke-width",.6).attr("opacity",.8));
 svg.append("line").attr("x1",x(1)).attr("x2",x(1)).attr("y1",731.7).attr("y2",975).attr("stroke","#333").attr("stroke-width",1).attr("stroke-dasharray","1.2 1.6");
 rowVar.forEach((v,i)=>{
  const c=y(i);
  T(59,c,v,{size:8.3,italic:v==="SCUBE2",fill:"#333"});
  if(rowLevel[i])T(102.3,c-4,rowLevel[i],{size:8.4,fill:"#333"});
  T(102.3,rowLevel[i]?c+4:c,rowN[i],{size:8.3,italic:true,fill:"#333"});
  if(rowCI[i]){T(252.3,c-4,rowHR[i],{size:8.4,anchor:"middle",fill:"#333"});T(252.3,c+4,rowCI[i],{size:8.3,anchor:"middle",italic:true,fill:"#333"});}
  else T(252.3,c,rowHR[i],{size:8.3,anchor:"middle",fill:"#333"});
  if(rowLo[i]!==null&&rowHi[i]-rowLo[i]>.1){
   svg.append("path").attr("d",`M${x(rowLo[i])},${c}H${x(rowHi[i])}M${x(rowLo[i])},${c-1.7}V${c+1.7}M${x(rowHi[i])},${c-1.7}V${c+1.7}`).attr("stroke","#1a1a1a").attr("stroke-width",.9).attr("fill","none");
  }
  svg.append("rect").attr("x",x(rowEst[i])-4.2).attr("y",c-4.2).attr("width",8.4).attr("height",8.4).attr("fill","#000").attr("stroke","#777").attr("stroke-width",.4);
  if(rowP[i])T(rowP[i].startsWith("<")?578.7:(rowP[i].includes("*")?577:576),c,rowP[i],{size:7.9,italic:true,fill:"#333"});
 });
 forestTicks.forEach(v=>T(x(v),982,v,{size:8.5,anchor:"middle",fill:"#444"}));
 T(250.7,982,"HR",{size:8.5,anchor:"middle",fill:"#444"});
}
</script></body></html>
